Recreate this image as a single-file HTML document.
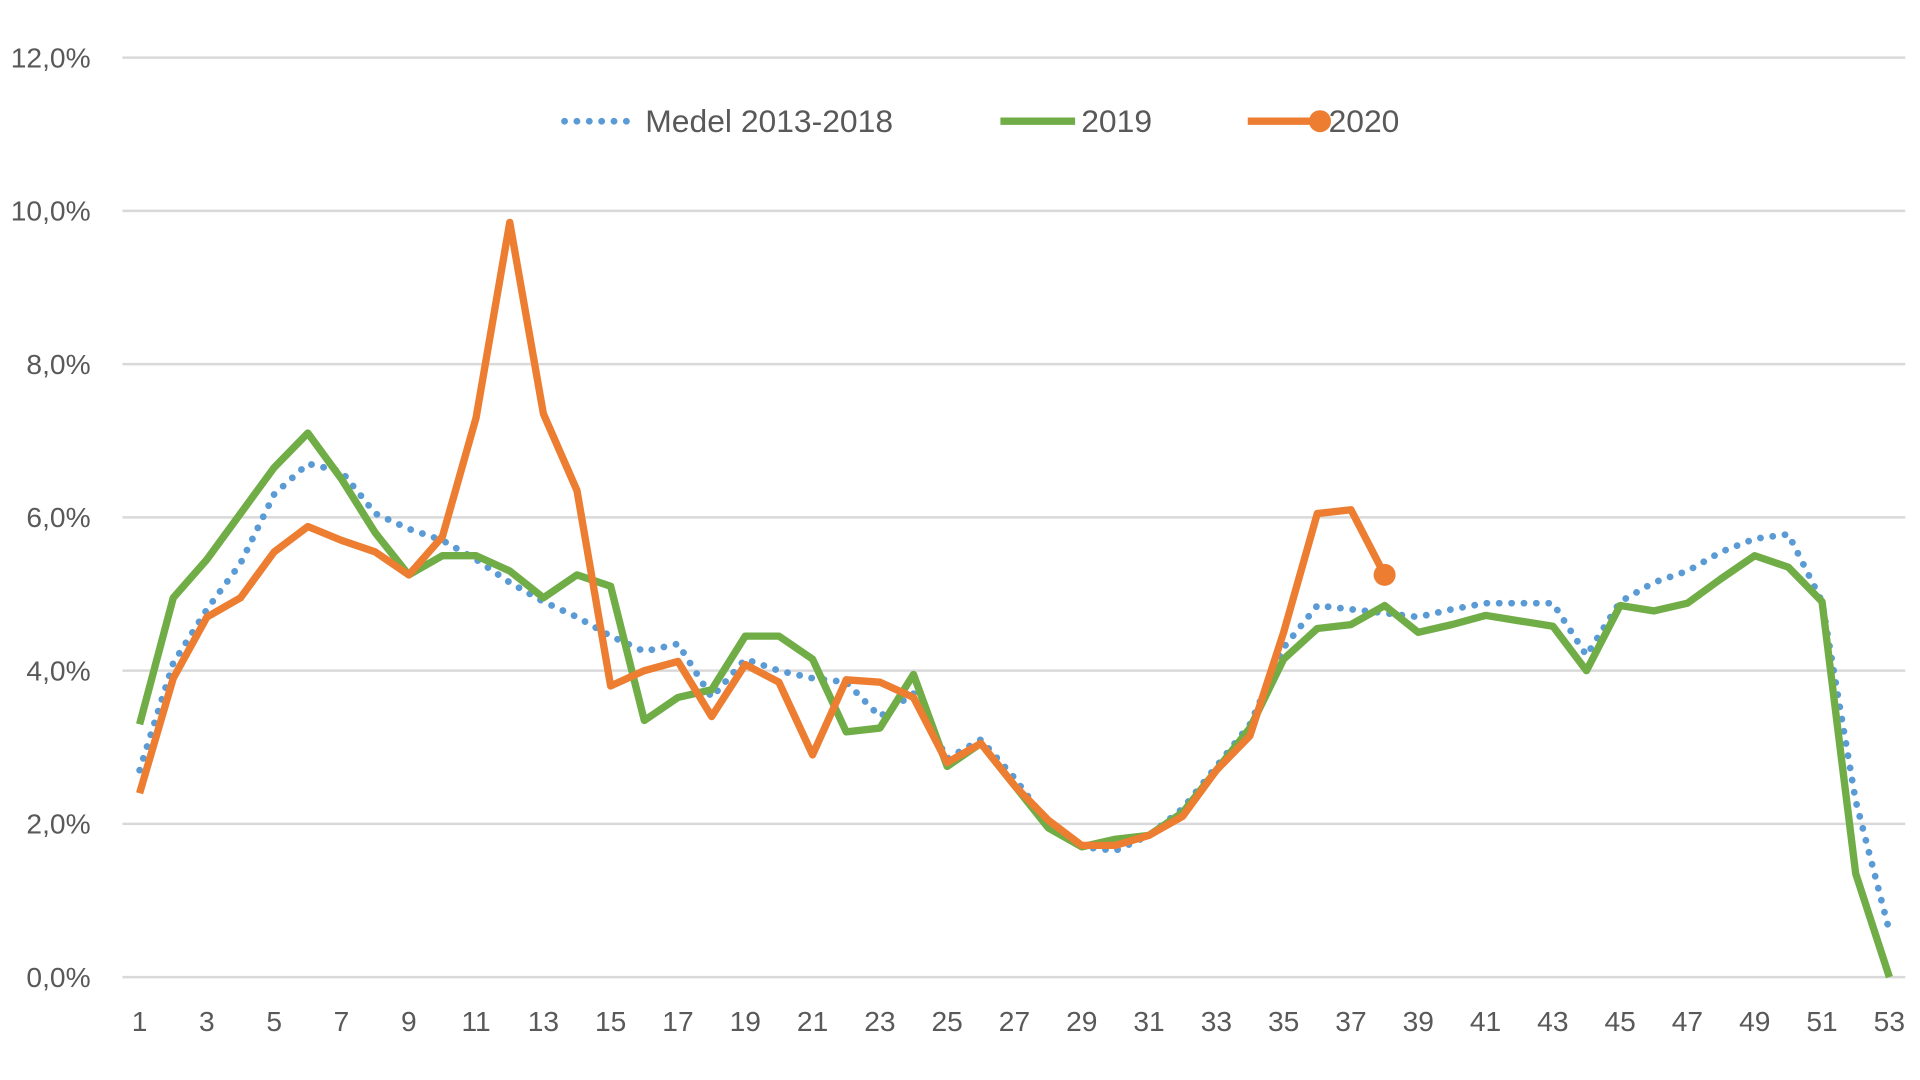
<!DOCTYPE html>
<html><head><meta charset="utf-8"><style>html,body{margin:0;padding:0;background:#fff;overflow:hidden}svg{display:block}</style></head>
<body>
<svg id="c" width="1920" height="1080" viewBox="0 0 1568 882" preserveAspectRatio="none" xmlns="http://www.w3.org/2000/svg" font-family="Liberation Sans, sans-serif" fill="#595959"></svg>
<script>
const s=document.getElementById('c');const NS='http://www.w3.org/2000/svg';
function el(t,a,txt){const e=document.createElementNS(NS,t);for(const k in a)e.setAttribute(k,a[k]);if(txt!=null)e.textContent=txt;s.appendChild(e);return e;}
const X=w=>114+(w-1)*27.48, Y=v=>798-v*62.58;
for(let i=0;i<=6;i++){const y=Y(i*2);el('line',{x1:100,x2:1556,y1:y,y2:y,stroke:'#d9d9d9','stroke-width':2});
el('text',{x:74,y:y+8,'text-anchor':'end','font-size':23},(i*2)+',0%');}
for(let w=1;w<=53;w+=2)el('text',{x:X(w),y:842,'text-anchor':'middle','font-size':23},w);
const med=[2.7,4.1,4.8,5.4,6.3,6.7,6.6,6.05,5.85,5.7,5.45,5.15,4.9,4.7,4.45,4.25,4.35,3.65,4.15,4.0,3.9,3.85,3.4,3.7,2.85,3.1,2.6,2.0,1.7,1.65,1.85,2.2,2.75,3.3,4.3,4.85,4.8,4.75,4.7,4.8,4.88,4.88,4.88,4.2,4.9,5.15,5.3,5.55,5.72,5.78,4.9,2.3,0.6];
const y19=[3.3,4.95,5.45,6.05,6.65,7.1,6.5,5.8,5.25,5.5,5.5,5.3,4.95,5.25,5.1,3.35,3.65,3.75,4.45,4.45,4.15,3.2,3.25,3.95,2.75,3.05,2.5,1.95,1.7,1.8,1.85,2.15,2.7,3.25,4.15,4.55,4.6,4.85,4.5,4.6,4.72,4.65,4.58,4.0,4.85,4.78,4.88,5.2,5.5,5.35,4.9,1.35,0.0];
const y20=[2.4,3.9,4.7,4.95,5.55,5.88,5.7,5.55,5.25,5.75,7.3,9.85,7.35,6.35,3.8,4.0,4.12,3.4,4.08,3.85,2.9,3.88,3.85,3.65,2.8,3.05,2.5,2.05,1.72,1.72,1.85,2.1,2.7,3.15,4.5,6.05,6.1,5.25];
const pts=a=>a.map((v,i)=>X(i+1).toFixed(1)+','+Y(v).toFixed(1)).join(' ');
el('polyline',{points:pts(med),fill:'none',stroke:'#5b9bd5','stroke-width':5.5,'stroke-dasharray':'0.1 10','stroke-linecap':'round'});
el('polyline',{points:pts(y19),fill:'none',stroke:'#70ad47','stroke-width':6,'stroke-linejoin':'round'});
el('polyline',{points:pts(y20),fill:'none',stroke:'#ed7d31','stroke-width':6,'stroke-linejoin':'round'});
el('circle',{cx:X(38),cy:Y(5.25),r:9,fill:'#ed7d31'});
el('line',{x1:461,x2:518,y1:99,y2:99,stroke:'#5b9bd5','stroke-width':5.5,'stroke-dasharray':'0.1 10','stroke-linecap':'round'});
el('text',{x:527,y:108,'font-size':26},'Medel 2013-2018');
el('line',{x1:817,x2:878,y1:99,y2:99,stroke:'#70ad47','stroke-width':6});
el('text',{x:883,y:108,'font-size':26},'2019');
el('line',{x1:1019,x2:1080,y1:99,y2:99,stroke:'#ed7d31','stroke-width':6});
el('circle',{cx:1078,cy:99,r:9,fill:'#ed7d31'});
el('text',{x:1085,y:108,'font-size':26},'2020');
</script>
</body></html>
